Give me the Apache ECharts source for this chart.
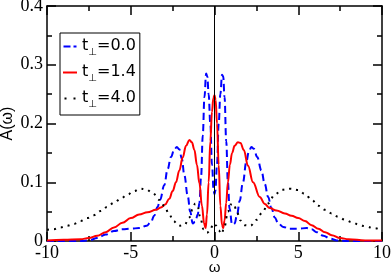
<!DOCTYPE html>
<html><head><meta charset="utf-8">
<script src="https://cdn.jsdelivr.net/npm/echarts@6/dist/echarts.min.js"></script>
<style>html,body{margin:0;padding:0;background:#fff}#c{width:392px;height:274px}</style>
</head><body><div id="c"></div>
<script>
// t_perp = 0.0 (blue dashed)
const omegaT0 = [-10,-8,-7.5,-7,-6.5,-6,-5.5,-5,-4.5,-4.05,-3.8,-3.6,-3.4,-3.25,-3.0,-2.8,-2.6,-2.4,-2.25,-2.1,-1.95,-1.8,-1.6,-1.45,-1.3,-1.15,-1.0,-0.9,-0.8,-0.7,-0.6,-0.5,-0.43,-0.35,-0.25,-0.15,-0.05,0,0.05,0.15,0.25,0.35,0.45,0.52,0.6,0.7,0.8,0.9,1.05,1.2,1.35,1.5,1.7,1.9,2.05,2.2,2.35,2.55,2.8,3.0,3.2,3.4,3.6,3.8,4.1,4.5,5,5.5,5.8,6.1,6.5,6.9,7.3,8,10];
const valsT0 = [0,0,0.001,0.005,0.011,0.017,0.02,0.021,0.022,0.026,0.032,0.043,0.058,0.07,0.095,0.122,0.143,0.156,0.16,0.156,0.14,0.112,0.077,0.05,0.03,0.033,0.045,0.065,0.11,0.18,0.245,0.285,0.28,0.25,0.2,0.13,0.085,0.08,0.085,0.13,0.2,0.25,0.283,0.28,0.245,0.17,0.1,0.055,0.028,0.03,0.045,0.068,0.1,0.135,0.152,0.16,0.157,0.143,0.12,0.097,0.075,0.056,0.04,0.03,0.024,0.021,0.021,0.022,0.02,0.015,0.009,0.004,0.001,0,0];
// t_perp = 1.4 (red solid)
const omegaT14 = [-10,-9,-8,-7.5,-7,-6.5,-6,-5.5,-5,-4.5,-4,-3.5,-3.2,-2.95,-2.7,-2.5,-2.3,-2.1,-1.9,-1.7,-1.5,-1.35,-1.2,-1.05,-0.9,-0.75,-0.62,-0.53,-0.45,-0.35,-0.25,-0.15,-0.07,0,0.07,0.15,0.25,0.35,0.45,0.52,0.6,0.7,0.8,0.92,1.05,1.2,1.4,1.55,1.75,2.0,2.3,2.7,3.0,3.3,3.7,4.2,4.6,5.0,5.4,5.8,6.2,6.6,7.0,7.5,8,9,10];
const valsT14 = [0.001,0.002,0.003,0.005,0.009,0.015,0.023,0.031,0.039,0.045,0.049,0.053,0.057,0.062,0.072,0.085,0.1,0.12,0.142,0.162,0.172,0.168,0.155,0.13,0.098,0.06,0.03,0.022,0.045,0.1,0.17,0.22,0.243,0.248,0.24,0.2,0.13,0.06,0.027,0.022,0.035,0.065,0.1,0.13,0.15,0.162,0.168,0.167,0.155,0.128,0.1,0.075,0.063,0.056,0.052,0.047,0.043,0.039,0.034,0.027,0.021,0.015,0.01,0.005,0.003,0.001,0.001];
// t_perp = 4.0 (black dotted)
const omegaT40 = [-10,-9.6,-9.2,-8.8,-8.4,-8,-7.6,-7.2,-6.8,-6.4,-6,-5.6,-5.2,-4.8,-4.45,-4.1,-3.7,-3.3,-3.0,-2.7,-2.45,-2.15,-1.8,-1.5,-1.3,-1.15,-1.0,-0.85,-0.65,-0.45,-0.25,-0.1,0,0.1,0.25,0.42,0.6,0.8,0.95,1.15,1.35,1.55,1.8,2.15,2.5,2.85,3.2,3.6,4.0,4.5,5.0,5.4,5.8,6.2,6.6,7.0,7.4,7.8,8.2,8.6,9.0,9.5,10];
const valsT40 = [0.019,0.02,0.023,0.026,0.029,0.034,0.039,0.044,0.051,0.058,0.065,0.072,0.079,0.085,0.089,0.088,0.082,0.07,0.06,0.045,0.034,0.026,0.027,0.04,0.055,0.064,0.058,0.04,0.02,0.014,0.018,0.028,0.03,0.026,0.018,0.012,0.025,0.05,0.062,0.063,0.048,0.035,0.027,0.026,0.036,0.048,0.064,0.079,0.087,0.089,0.087,0.08,0.07,0.06,0.053,0.047,0.041,0.036,0.032,0.028,0.025,0.022,0.019];
const xTicks = [-10,-5,0,5,10];
const yTicks = [0,0.1,0.2,0.3,0.4];
const legendNames = ['t0','t14','t40'];
const legendLabels = {t0:'0.0', t14:'1.4', t40:'4.0'};

const zip = (a,b) => a.map((x,i)=>[x,b[i]]);
const chart = echarts.init(document.getElementById('c'), null, {renderer:'canvas'});
const tickStyle = {show:true, inside:true, length:9, lineStyle:{color:'#000', width:1.5}};
const minorStyle = {show:true, splitNumber:2, length:5, lineStyle:{color:'#000', width:1.5}};
const serif = 'Liberation Serif';
const xBase = {type:'value', min:-10, max:10, interval:5, splitLine:{show:false},
  axisLine:{show:true, onZero:false, lineStyle:{color:'#000', width:1.5}},
  axisTick:tickStyle, minorTick:minorStyle};
const yBase = {type:'value', min:0, max:0.4, interval:0.1, splitLine:{show:false},
  axisLine:{show:true, onZero:false, lineStyle:{color:'#000', width:1.5}},
  axisTick:tickStyle, minorTick:minorStyle};
const icons = {
  t0:'path://M0,0h7v2h-7z M10,0h3v2h-3z',
  t14:'path://M0,0h14v2h-14z',
  t40:'path://M0,0h2v2h-2z M9,0h2v2h-2z'
};
chart.setOption({
  animation:false,
  grid:{left:47, right:10, top:6, bottom:33, containLabel:false, outerBoundsMode:'none'},
  legend:{
    data:legendNames.map(n => ({name:n, icon:icons[n]})), orient:'vertical', left:60, top:33,
    borderColor:'#000', borderWidth:1, padding:[3,4,6,3], itemGap:5,
    itemWidth:14, itemHeight:2,
    formatter: n => '{a|t}{s|⊥}{a|=' + legendLabels[n] + '}',
    textStyle:{ rich:{
      a:{fontFamily:'DejaVu Sans', fontSize:16, lineHeight:21, color:'#000', verticalAlign:'top', padding:[2,0,0,0]},
      s:{fontFamily:'DejaVu Sans', fontSize:10, lineHeight:21, color:'#000', verticalAlign:'bottom'}
    }}
  },
  xAxis:[
    Object.assign({}, xBase, {position:'bottom', name:'ω', nameLocation:'middle', nameGap:19, nameMoveOverlap:false,
      nameTextStyle:{fontFamily:'Liberation Sans', fontSize:15, color:'#000'},
      axisLabel:{fontFamily:serif, fontSize:18, color:'#000', margin:3}}),
    Object.assign({}, xBase, {position:'top', axisLabel:{show:false}})
  ],
  yAxis:[
    Object.assign({}, yBase, {position:'left', name:'A(ω)', nameLocation:'middle', nameGap:31, nameRotate:90, nameMoveOverlap:false,
      nameTextStyle:{fontFamily:'Liberation Sans', fontSize:16, color:'#000'},
      axisLabel:{fontFamily:serif, fontSize:18, color:'#000', margin:4}}),
    Object.assign({}, yBase, {position:'right', axisLabel:{show:false}})
  ],
  series:[
    {name:'t0', type:'line', data:zip(omegaT0,valsT0), symbol:'none', smooth:0.4, smoothMonotone:'x',
     lineStyle:{color:'#0000ff', width:2, type:[7,4]}, itemStyle:{color:'#0000ff'},
     markLine:{silent:true, symbol:'none', label:{show:false}, lineStyle:{color:'#000', width:1, type:'solid'}, data:[{xAxis:0}]}},
    {name:'t14', type:'line', data:zip(omegaT14,valsT14), symbol:'none', smooth:0.4, smoothMonotone:'x',
     lineStyle:{color:'#ff0000', width:2, type:'solid'}, itemStyle:{color:'#ff0000'}},
    {name:'t40', type:'line', data:zip(omegaT40,valsT40), symbol:'none', smooth:0.4, smoothMonotone:'x',
     lineStyle:{color:'#000', width:2, type:[2,5]}, itemStyle:{color:'#000'}}
  ]
});
</script></body></html>
